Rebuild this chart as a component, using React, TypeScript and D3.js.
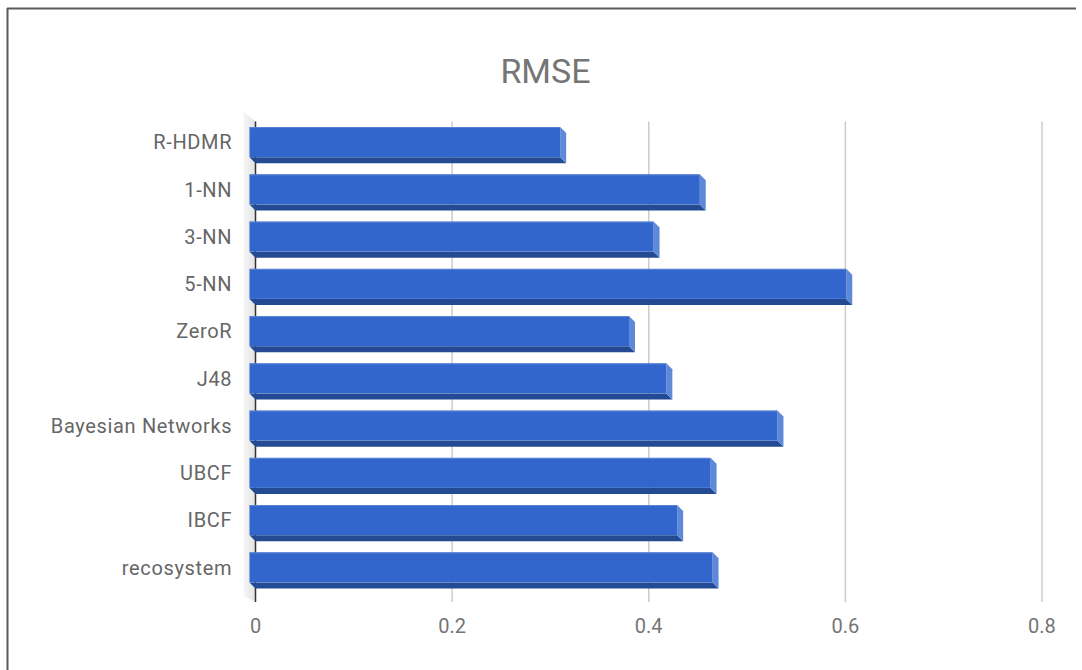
import React from "react";
import * as d3 from "d3";

const categories = [
  "R-HDMR",
  "1-NN",
  "3-NN",
  "5-NN",
  "ZeroR",
  "J48",
  "Bayesian Networks",
  "UBCF",
  "IBCF",
  "recosystem",
];
const rmse = [0.316, 0.458, 0.411, 0.607, 0.386, 0.424, 0.537, 0.469, 0.435, 0.471];
const xTicks = [0, 0.2, 0.4, 0.6, 0.8];
const title = "RMSE";

const W = 1082;
const H = 670;
const DEPTH = 6;
const FONT = "Roboto, 'Noto Sans', Arial, sans-serif";

export default function App() {
  const x = d3.scaleLinear().domain([0, 0.8]).range([255.5, 1042]);
  const y = d3
    .scaleBand<string>()
    .domain(categories)
    .range([121.5, 594])
    .paddingInner(0.238)
    .paddingOuter(0.119);
  const bw = y.bandwidth();
  const frontH = bw - DEPTH;
  const gridTop = 121.5;
  const gridBottom = 602;

  return (
    <svg
      width={W}
      height={H}
      style={{ position: "absolute", left: 0, top: 0, background: "#fff" }}
      fontFamily={FONT}
    >
      <defs>
        <linearGradient id="wall" x1="0" x2="1" y1="0" y2="0">
          <stop offset="0" stopColor="#f7f7f7" />
          <stop offset="1" stopColor="#e2e2e2" />
        </linearGradient>
      </defs>
      <rect x={0} y={0} width={W} height={H} fill="#fff" />
      {/* frame */}
      <line x1={7} x2={1076} y1={8.5} y2={8.5} stroke="#5a5a5a" strokeWidth={2} />
      <line x1={7.5} x2={7.5} y1={8} y2={H} stroke="#5a5a5a" strokeWidth={2} />

      <text x={545.5} y={83} textAnchor="middle" fontSize={34} fill="#757575">
        {title}
      </text>

      {/* left wall */}
      <polygon
        points={`${x(0) - 12},${gridTop - 10} ${x(0)},${gridTop} ${x(0)},${gridBottom} ${x(0) - 12},${gridBottom - 6}`}
        fill="url(#wall)"
      />

      {/* gridlines */}
      {xTicks.slice(1).map((t) => (
        <line
          key={t}
          x1={x(t)}
          x2={x(t)}
          y1={gridTop}
          y2={gridBottom}
          stroke="#cccccc"
          strokeWidth={1.5}
        />
      ))}
      <line x1={x(0)} x2={x(0)} y1={gridTop} y2={gridBottom} stroke="#333" strokeWidth={1.5} />

      {/* bars: bottom face, side face, front face */}
      {categories.map((c, i) => {
        const y0 = y(c)!;
        const y1 = y0 + frontH;
        const xl = x(0) - DEPTH;
        const xr = x(rmse[i]) - DEPTH;
        return (
          <g key={c}>
            <polygon
              points={`${xl},${y1} ${xr},${y1} ${xr + DEPTH},${y1 + DEPTH} ${xl + DEPTH},${y1 + DEPTH}`}
              fill="#234a93"
            />
            <polygon
              points={`${xr},${y0} ${xr + DEPTH},${y0 + DEPTH} ${xr + DEPTH},${y1 + DEPTH} ${xr},${y1}`}
              fill="#5e89d9"
            />
            <rect x={xl} y={y0} width={xr - xl} height={frontH} fill="#3366cc" />
            <line x1={xl} x2={xr} y1={y0 + 0.5} y2={y0 + 0.5} stroke="#5c85d6" strokeWidth={1} />
          </g>
        );
      })}

      {/* category labels */}
      {categories.map((c) => (
        <text
          key={c}
          x={232.2}
          y={y(c)! + frontH / 2}
          dy="0.36em"
          textAnchor="end"
          fontSize={20}
          letterSpacing={0.65}
          fill="#666666"
        >
          {c}
        </text>
      ))}

      {/* x tick labels */}
      {xTicks.map((t) => (
        <text key={t} x={x(t)} y={632.5} textAnchor="middle" fontSize={20} fill="#757575">
          {d3.format("~g")(t)}
        </text>
      ))}
    </svg>
  );
}
